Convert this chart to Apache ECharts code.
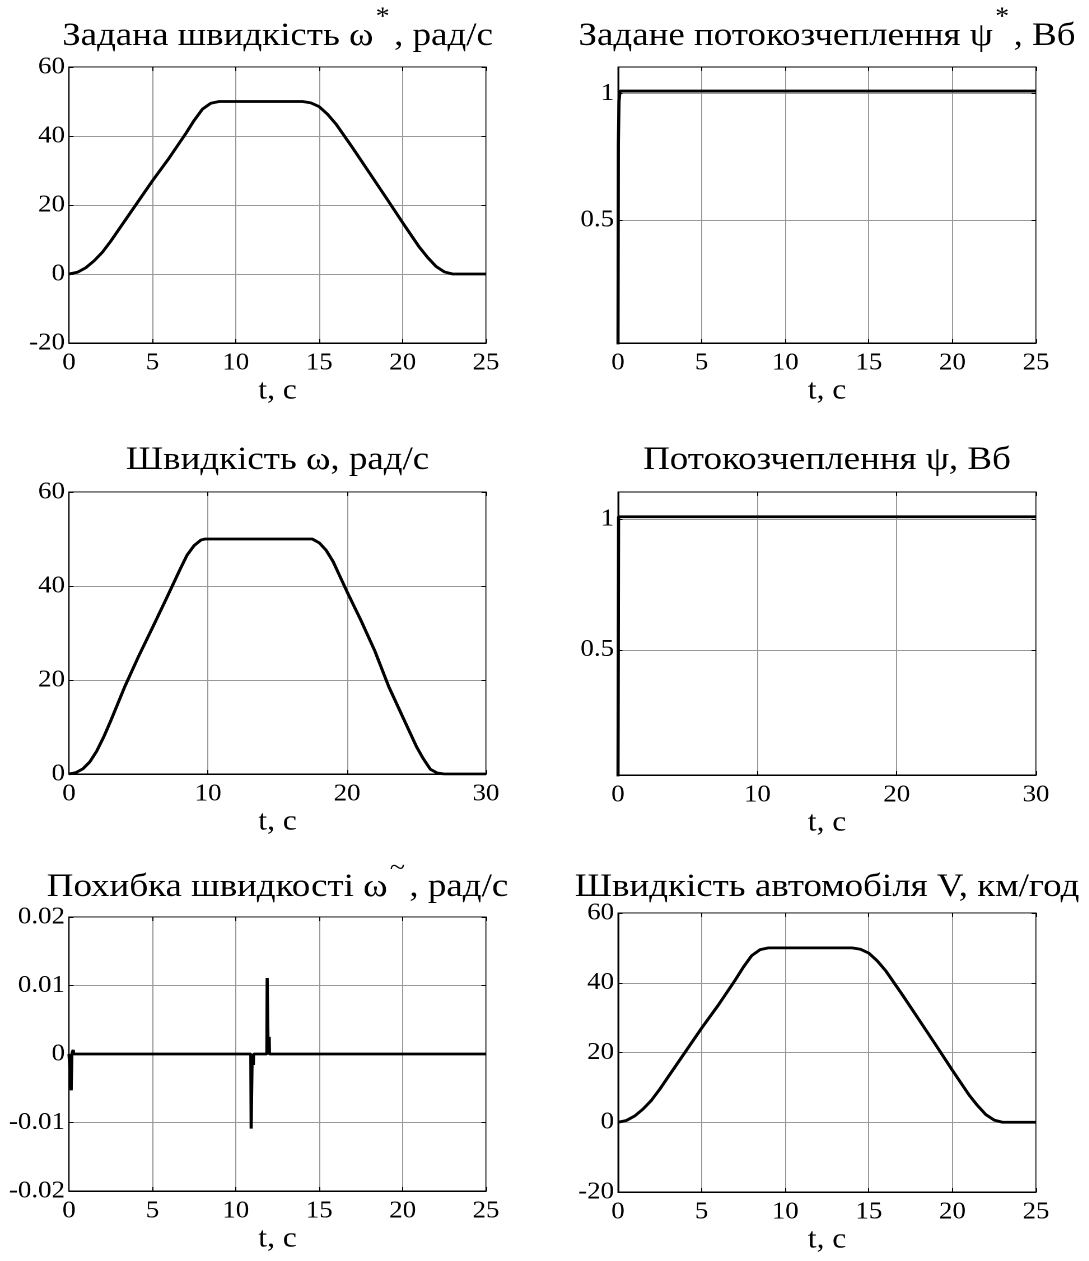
<!DOCTYPE html>
<html>
<head>
<meta charset="utf-8">
<script src="https://cdn.jsdelivr.net/npm/echarts@6/dist/echarts.min.js"></script>
<style>
  html, body { margin: 0; padding: 0; background: #fff; overflow: hidden; }
  /* the figure uses a slightly wide aspect: lay it out narrower and stretch it horizontally */
  #chart { height: 1261px; transform-origin: 0 0; }
</style>
</head>
<body>
<div id="chart"></div>
<script>
// ---- Reference speed ω*, rad/s (t from 0 to 25 s)
const refSpeedT = [0, 0.5, 1.0, 1.5, 2.0, 2.5, 3, 4, 5, 6, 7, 7.5, 8, 8.5, 9, 9.5, 14.0, 14.5, 15, 15.5, 16, 17, 18, 19, 20, 21, 21.5, 22, 22.5, 23, 25];
const refSpeedV = [0, 0.5, 1.8, 3.8, 6.3, 9.5, 13, 20, 27, 33.6, 40.7, 44.5, 47.8, 49.5, 50, 50, 50, 49.6, 48.5, 46.3, 43.5, 36.6, 29.4, 22.2, 14.9, 7.8, 4.8, 2.2, 0.6, 0, 0];

// ---- Reference flux linkage ψ*, Wb
const refFluxT = [0, 0.02, 0.06, 0.12, 25];
const refFluxV = [0, 0.8, 0.97, 1.01, 1.01];

// ---- Motor speed ω, rad/s (t from 0 to 30 s)
const speedT = [0, 0.5, 1, 1.5, 2, 2.5, 3, 4, 5, 6, 7, 8, 8.5, 9, 9.5, 9.8, 17.5, 18, 18.5, 19, 19.5, 20, 21, 22, 23, 24, 25, 25.5, 26, 26.5, 27, 30];
const speedV = [0, 0.3, 1.1, 2.6, 4.9, 7.9, 11.3, 18.5, 25, 31.1, 37.3, 43.6, 46.6, 48.6, 49.8, 50, 50, 49.2, 47.6, 45.2, 42, 38.8, 32.7, 26.2, 18.6, 12.2, 5.8, 3.2, 1.0, 0.2, 0, 0];

// ---- Flux linkage ψ, Wb
const fluxT = [0, 0.04, 30];
const fluxV = [0, 1.01, 1.01];

// ---- Speed error ω~, rad/s
const errT = [0, 0.12, 0.13, 0.16, 0.17, 0.22, 0.25, 0.28, 10.9, 10.92, 10.96, 10.98, 11.03, 11.05, 11.07, 11.86, 11.88, 11.92, 11.94, 11.98, 12.0, 12.02, 25];
const errV = [0, 0, -0.0053, -0.0053, 0, 0, 0.0006, 0, 0, -0.0109, -0.0109, 0, 0, -0.0016, 0, 0, 0.0111, 0.0111, 0, 0, 0.0025, 0, 0];

// ---- Vehicle speed V, km/h
const carT = [0, 0.5, 1.0, 1.5, 2.0, 2.5, 3, 4, 5, 6, 7, 7.5, 8, 8.5, 9, 9.5, 14.0, 14.5, 15, 15.5, 16, 17, 18, 19, 20, 21, 21.5, 22, 22.5, 23, 25];
const carV = [0, 0.5, 1.8, 3.8, 6.3, 9.5, 13, 20, 27, 33.6, 40.7, 44.5, 47.8, 49.5, 50, 50, 50, 49.6, 48.5, 46.3, 43.5, 36.6, 29.4, 22.2, 14.9, 7.8, 4.8, 2.2, 0.6, 0, 0];

// ---- Panel titles (main text, superscript, rest) and axis names
const titles = [
  ['Задана швидкість ω', '*', ', рад/с'],
  ['Задане потокозчеплення ψ', '*', ', Вб'],
  ['Швидкість ω, рад/с', '', ''],
  ['Потокозчеплення ψ, Вб', '', ''],
  ['Похибка швидкості ω', '~', ', рад/с'],
  ['Швидкість автомобіля V, км/год', '', '']
];
const xName = 't, с';

const FONT = 'Liberation Serif';
const W = 1089, SX = 1.12;          // final width and horizontal stretch
const chartEl = document.getElementById('chart');
chartEl.style.width = (W / SX) + 'px';
chartEl.style.transform = 'scaleX(' + SX + ')';
const hx = v => v / SX;             // horizontal page pixels -> layout pixels

// plot areas [left, top, width, height] in page pixels
const boxes = [
  [69, 67, 417, 276],
  [618, 67, 418, 276],
  [69, 492, 417, 282],
  [618, 492, 418, 283],
  [69, 917, 417, 274],
  [618, 913, 418, 279]
];
// vertical centre of each title line
const titleCentres = [29, 29, 453, 453, 880, 880];

// axis ranges
const xRanges = [[0, 25, 5], [0, 25, 5], [0, 30, 10], [0, 30, 10], [0, 25, 5], [0, 25, 5]];
const yRanges = [
  { min: -20, max: 60, interval: 20 },
  { min: 0.015, max: 1.105, ticks: [0.5, 1] },
  { min: 0, max: 60, interval: 20 },
  { min: 0.02, max: 1.105, ticks: [0.5, 1] },
  { min: -0.02, max: 0.02, interval: 0.01 },
  { min: -20, max: 60, interval: 20 }
];

const seriesData = [
  [refSpeedT, refSpeedV],
  [refFluxT, refFluxV],
  [speedT, speedV],
  [fluxT, fluxV],
  [errT, errV],
  [carT, carV]
];

const grids = [], xAxes = [], yAxes = [], series = [], titleOpts = [];
const TITLE_LH = 48;
const GRID_LINE = { show: true, lineStyle: { color: '#999', width: 1 } };

boxes.forEach((b, i) => {
  grids.push({
    left: hx(b[0]), top: b[1], width: hx(b[2]), height: b[3],
    show: true, borderColor: '#000', borderWidth: 1, backgroundColor: '#fff'
  });
  const [xmin, xmax, xint] = xRanges[i];
  const tickStyle = { show: true, inside: true, length: 4, lineStyle: { color: '#000', width: 1 } };
  xAxes.push({
    type: 'value', gridIndex: i, position: 'bottom', min: xmin, max: xmax, interval: xint,
    name: xName, nameLocation: 'middle', nameGap: 34,
    nameTextStyle: { fontFamily: FONT, fontSize: 28, color: '#000' },
    axisLine: { show: true, onZero: false, lineStyle: { color: '#000', width: 1 } },
    axisTick: Object.assign({}, tickStyle),
    axisLabel: { fontFamily: FONT, fontSize: 24, color: '#000', margin: 8 },
    splitLine: GRID_LINE
  });
  // mirrored top axis carrying the inner ticks only
  xAxes.push({
    type: 'value', gridIndex: i, position: 'top', min: xmin, max: xmax, interval: xint,
    axisLine: { show: false, onZero: false }, axisTick: tickStyle,
    axisLabel: { show: false }, splitLine: { show: false }
  });
  const yr = yRanges[i];
  const yBase = { type: 'value', gridIndex: i, min: yr.min, max: yr.max };
  if (yr.interval) yBase.interval = yr.interval;
  const yTick = Object.assign({}, tickStyle);
  const yLabel = { fontFamily: FONT, fontSize: 24, color: '#000', margin: hx(4), showMinLabel: true, showMaxLabel: true };
  if (yr.ticks) {
    yTick.customValues = yr.ticks;
    yLabel.customValues = yr.ticks;
  }
  yAxes.push(Object.assign({}, yBase, {
    position: 'left',
    axisLine: { show: true, onZero: false, lineStyle: { color: '#000', width: 1 } },
    axisTick: yTick,
    axisLabel: yLabel,
    splitLine: GRID_LINE
  }));
  // mirrored right axis carrying the inner ticks only
  yAxes.push(Object.assign({}, yBase, {
    position: 'right',
    axisLine: { show: false, onZero: false }, axisTick: yTick,
    axisLabel: { show: false }, splitLine: { show: false }
  }));

  const [tArr, vArr] = seriesData[i];
  series.push({
    type: 'line', xAxisIndex: 2 * i, yAxisIndex: 2 * i,
    data: tArr.map((t, k) => [t, vArr[k]]),
    showSymbol: false, smooth: false, clip: true,
    lineStyle: { color: '#000', width: 2.8 },
    animation: false
  });

  const [pre, sup, post] = titles[i];
  const supStyle = sup === '*' ? 's' : 't';
  const text = sup ? `{b|${pre}}{${supStyle}|${sup}}{b|${post}}` : `{b|${pre}}`;
  titleOpts.push({
    text: text,
    left: hx(b[0] + b[2] / 2),
    top: titleCentres[i] - TITLE_LH / 2,
    textAlign: 'center',
    padding: 0,
    textStyle: {
      fontWeight: 'normal',
      rich: {
        b: { fontFamily: FONT, fontSize: 33, fontWeight: 'normal', color: '#000', lineHeight: TITLE_LH, verticalAlign: 'bottom' },
        s: { fontFamily: FONT, fontSize: 25, fontWeight: 'normal', color: '#000', lineHeight: 40, verticalAlign: 'top', padding: [0, 4, 0, 2] },
        t: { fontFamily: FONT, fontSize: 25, fontWeight: 'normal', color: '#000', lineHeight: 29, verticalAlign: 'top', padding: [0, 4, 0, 2] }
      }
    }
  });
});

const chart = echarts.init(chartEl, null, { renderer: 'canvas', devicePixelRatio: 2 });
chart.setOption({
  backgroundColor: '#fff',
  animation: false,
  title: titleOpts,
  grid: grids,
  xAxis: xAxes,
  yAxis: yAxes,
  series: series
});
</script>
</body>
</html>
